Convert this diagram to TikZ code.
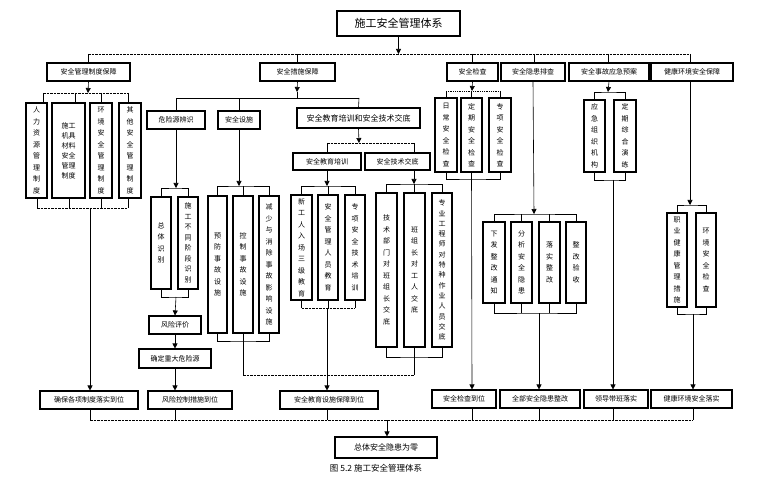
\documentclass[tikz,border=0pt]{standalone}
\usepackage{fontspec}
\setmainfont{Noto Sans CJK SC}
\usetikzlibrary{arrows.meta}
\begin{document}
\begin{tikzpicture}[x=1pt,y=-1pt,
 box/.style={draw,line width=1.1pt,inner sep=0pt,font=\fontsize{7}{8}\selectfont,minimum height=18pt},
 vb/.style={draw,line width=1.1pt,inner sep=0pt,align=center,font=\fontsize{7}{11.5}\selectfont},
 ln/.style={line width=0.6pt},
 dl/.style={line width=0.9pt,dash pattern=on 2.5pt off 1pt},
 ar/.style={line width=0.6pt,-{Triangle[length=5pt,width=5pt]}}]
\useasboundingbox (0,0) rectangle (770,478);
\node[box,minimum width=123pt,minimum height=25pt,font=\fontsize{11}{12}\selectfont] (t) at (398.5,23.5) {施工安全管理体系};
\node[box,minimum width=83pt] (m1) at (88.5,72) {安全管理制度保障};
\node[box,minimum width=75pt] (m2) at (297.5,72) {安全措施保障};
\node[box,minimum width=51pt] (m3) at (472.5,72) {安全检查};
\node[box,minimum width=64pt] (m4) at (533,72) {安全隐患排查};
\node[box,minimum width=80pt] (m5) at (609,72) {安全事故应急预案};
\node[box,minimum width=82pt] (m6) at (692,72) {健康环境安全保障};
% m1 children
\node[vb,minimum width=21pt,minimum height=95pt] (a1) at (36.5,150.5) {人\\力\\资\\源\\管\\理\\制\\度};
\node[vb,minimum width=33pt,minimum height=95pt,font=\fontsize{7}{10}\selectfont] (a2) at (68.5,150.5) {施工\\机具\\材料\\安全\\管理\\制度};
\node[vb,minimum width=22pt,minimum height=95pt] (a3) at (101,150.5) {环\\境\\安\\全\\管\\理\\制\\度};
\node[vb,minimum width=22pt,minimum height=95pt] (a4) at (130,150.5) {其\\他\\安\\全\\管\\理\\制\\度};
% m2 children
\node[box,minimum width=58pt] (b1) at (176,120) {危险源辨识};
\node[box,minimum width=42pt] (b2) at (239,120) {安全设施};
\node[box,minimum width=123pt,minimum height=20pt,font=\fontsize{8}{9}\selectfont] (b3) at (358.5,118) {安全教育培训和安全技术交底};
\node[vb,minimum width=20pt,minimum height=92pt] (c1) at (161,243) {总\\体\\识\\别};
\node[vb,minimum width=20pt,minimum height=92pt,font=\fontsize{7}{10.5}\selectfont] (c2) at (188,243) {施\\工\\不\\同\\阶\\段\\识\\别};
\node[box,minimum width=52pt] (r1) at (175,325) {风险评价};
\node[box,minimum width=72pt,minimum height=19pt] (r2) at (175,358.5) {确定重大危险源};
\node[vb,minimum width=19pt,minimum height=137pt] (d1) at (217.5,264.5) {预\\防\\事\\故\\设\\施};
\node[vb,minimum width=20pt,minimum height=137pt] (d2) at (243,264.5) {控\\制\\事\\故\\设\\施};
\node[vb,minimum width=20pt,minimum height=137pt] (d3) at (269,264.5) {减\\少\\与\\消\\除\\事\\故\\影\\响\\设\\施};
\node[box,minimum width=68pt,minimum height=17pt] (e1) at (327,161.5) {安全教育培训};
\node[box,minimum width=65pt,minimum height=17pt] (e2) at (397.5,161.5) {安全技术交底};
\node[vb,minimum width=21pt,minimum height=105pt] (f1) at (301.5,247.5) {新\\工\\人\\入\\场\\三\\级\\教\\育};
\node[vb,minimum width=20pt,minimum height=105pt] (f2) at (328,247.5) {安\\全\\管\\理\\人\\员\\教\\育};
\node[vb,minimum width=20pt,minimum height=105pt] (f3) at (355,247.5) {专\\项\\安\\全\\技\\术\\培\\训};
\node[vb,minimum width=21pt,minimum height=154pt] (g1) at (386.5,270) {技\\术\\部\\门\\对\\班\\组\\长\\交\\底};
\node[vb,minimum width=21pt,minimum height=154pt] (g2) at (414.5,270) {班\\组\\长\\对\\工\\人\\交\\底};
\node[vb,minimum width=20pt,minimum height=154pt,font=\fontsize{7}{10.3}\selectfont] (g3) at (442,270) {专\\业\\工\\程\\师\\对\\特\\种\\作\\业\\人\\员\\交\\底};
% m3..m6 children
\node[vb,minimum width=22pt,minimum height=74pt] (h1) at (446,135) {日\\常\\安\\全\\检\\查};
\node[vb,minimum width=21pt,minimum height=74pt] (h2) at (471.5,135) {定\\期\\安\\全\\检\\查};
\node[vb,minimum width=22pt,minimum height=74pt] (h3) at (500,135) {专\\项\\安\\全\\检\\查};
\node[vb,minimum width=22pt,minimum height=81pt] (i1) at (494,262.5) {下\\发\\整\\改\\通\\知};
\node[vb,minimum width=21pt,minimum height=81pt] (i2) at (521.5,262.5) {分\\析\\安\\全\\隐\\患};
\node[vb,minimum width=21pt,minimum height=81pt] (i3) at (549.5,262.5) {落\\实\\整\\改};
\node[vb,minimum width=20pt,minimum height=81pt] (i4) at (576,262.5) {整\\改\\验\\收};
\node[vb,minimum width=21pt,minimum height=72pt] (j1) at (594.5,136) {应\\急\\组\\织\\机\\构};
\node[vb,minimum width=22pt,minimum height=72pt] (j2) at (625,136) {定\\期\\综\\合\\演\\练};
\node[vb,minimum width=20pt,minimum height=94pt] (k1) at (677,260) {职\\业\\健\\康\\管\\理\\措\\施};
\node[vb,minimum width=20pt,minimum height=94pt] (k2) at (706,260) {环\\境\\安\\全\\检\\查};
% bottom
\node[box,minimum width=98pt] (z1) at (89,400) {确保各项制度落实到位};
\node[box,minimum width=84pt] (z2) at (190,400) {风险控制措施到位};
\node[box,minimum width=98pt] (z3) at (329,400) {安全教育设施保障到位};
\node[box,minimum width=64pt] (z4) at (464,399) {安全检查到位};
\node[box,minimum width=80pt] (z5) at (540,399) {全部安全隐患整改};
\node[box,minimum width=64pt] (z6) at (616,399) {领导带班落实};
\node[box,minimum width=81pt] (z7) at (691.5,399) {健康环境安全落实};
\node[box,minimum width=102pt,minimum height=21pt,font=\fontsize{8}{9}\selectfont] (fin) at (386,447.5) {总体安全隐患为零};
\node[font=\fontsize{8.5}{9}\selectfont] (cap) at (376,468.5) {图 5.2 施工安全管理体系};
% top bus
\draw[ar] (t.south) -- (t.south |- 0,54);
\draw[dl] (88,54) -- (690,54);
\foreach \n/\x in {m1/88,m2/297,m3/472,m4/534,m5/608,m6/690} \draw[ln] (\x,54) -- (\x,63);
% m1 group
\draw[ar] (m1.south) -- (88,93);
\draw[dl] (43,93) -- (128,93);
\foreach \x in {43,75,101,128} \draw[ln] (\x,93) -- (\x,103);
\foreach \x in {37,69,101,128} \draw[ln] (\x,198) -- (\x,208);
\draw[dl] (37,208) -- (128,208);
\draw[ar] (90,208) -- (z1.north -| 90,0);
% m2 group
\draw[ar] (m2.south) -- (297,92);
\draw[ln] (176,98) -- (359,98);
\draw[ln] (297,92) -- (297,98);
\draw[ln] (b1.north) -- (176,98); \draw[ln] (b2.north) -- (239,98); \draw[ln] (b3.north) -- (359,98);
% b1
\draw[ar] (b1.south) -- (176,188);
\draw[ln] (c1.north) |- (176,188) -| (c2.north);
\draw[ln] (c1.south) |- (176,297) -| (c2.south);
\draw[ar] (176,297) -- (r1.north);
\draw[ar] (r1.south) -- (r2.north);
\draw[ar] (r2.south) -- (z2.north -| 175,0);
% b2
\draw[ar] (b2.south) -- (239,186);
\draw[ln] (d1.north) |- (239,186) -| (d3.north);
\draw[ln] (d2.north) -- (243,186);
\draw[ln] (d1.south) |- (243,341) -| (d3.south);
\draw[ln] (d2.south) -- (243,341);
\draw[ln] (243,341) -- (243,375);
\draw[dl] (243,375) -- (414,375);
% b3
\draw[ar] (b3.south) -- (359,143);
\draw[dl] (327,143) -- (414,143);
\draw[ln] (327,143) -- (e1.north); \draw[ln] (414,143) -- (e2.north -| 414,0);
\draw[ar] (e1.south) -- (327,186);
\draw[ln] (f1.north) |- (327,186) -| (f3.north);
\draw[ln] (f2.north) -- (328,186);
\draw[ln] (f1.south) -- (301.5,308); \draw[ln] (f3.south) -- (355,308); \draw[ln] (f2.south) -- (328,308);
\draw[dl] (301.5,308) -- (355,308);
\draw[ar] (327,308) -- (z3.north -| 327,0);
\draw[ar] (e2.south -| 414,0) -- (414,184);
\draw[ln] (g1.north) |- (414,184) -| (g3.north);
\draw[ln] (g2.north) -- (414.5,184);
\draw[ln] (g1.south) |- (414,357) -| (g3.south);
\draw[ln] (g2.south) -- (414.5,357);
\draw[ln] (414,357) -- (414,375);
% m3
\draw[ar] (m3.south) -- (472,91);
\draw[dl,dash pattern=on 1pt off 0.8pt] (446,91) -- (500,91);
\draw[ln] (446,91) -- (h1.north); \draw[ln] (471.5,91) -- (h2.north); \draw[ln] (500,91) -- (h3.north);
\draw[ln] (h1.south) |- (472,179) -| (h3.south);
\draw[ln] (h2.south) -- (471.5,179);
\draw[ar] (h2.south) -- (z4.north -| 472,0);
% m4
\draw[ar] (m4.south) -- (534,214);
\draw[ln] (i1.north) |- (534,214) -| (i4.north);
\draw[ln] (i2.north) -- (521.5,214); \draw[ln] (i3.north) -- (549.5,214);
\draw[ln] (i1.south) |- (539,313) -| (i4.south);
\draw[ln] (i2.south) -- (521.5,313); \draw[ln] (i3.south) -- (549.5,313);
\draw[ar] (539,313) -- (z5.north -| 539,0);
% m5
\draw[ar] (m5.south) -- (608,92);
\draw[ln] (j1.north) |- (608,92) -| (j2.north);
\draw[ln] (j1.south) |- (613,180) -| (j2.south);
\draw[ar] (613,180) -- (z6.north -| 613,0);
% m6
\draw[ar] (m6.south -| 690,0) -- (690,205);
\draw[ln] (k1.north) |- (690,205) -| (k2.north);
\draw[ln] (k1.south) |- (693,314) -| (k2.south);
\draw[ar] (693,314) -- (z7.north -| 693,0);
% bottom bus
\foreach \n/\x in {z1/90,z2/175,z3/327,z4/472,z5/539,z6/613,z7/693} \draw[ln] (\n.south -| \x,0) -- (\x,420);
\draw[dl] (90,420) -- (693,420);
\draw[ar] (387,420) -- (fin.north -| 387,0);
\end{tikzpicture}
\end{document}
